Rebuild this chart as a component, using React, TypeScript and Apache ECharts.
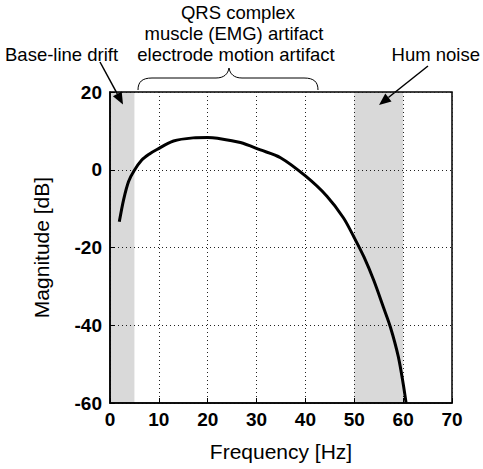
import React, { useEffect, useRef } from "react";
import * as echarts from "echarts";

const freqHz = [1.9, 2.8, 3.8, 4.9, 6.5, 8, 9.6, 13, 17, 20, 22, 26.7, 30.8, 34.9, 40, 44.4, 47.8, 50, 52, 54, 56, 57.4, 59, 60, 60.6];
const magDb = [-13.4, -7.6, -3, -0.3, 2.5, 4.0, 5.2, 7.4, 8.2, 8.3, 8.1, 7.0, 5.1, 3.1, -1.6, -6.8, -12.4, -17.5, -22.5, -28.5, -35.5, -40.5, -48, -55, -60];
const noiseBands = [
  [0, 5],
  [50, 60],
];
const xTicks = { min: 0, max: 70, interval: 10 };
const yTicks = { min: -60, max: 20, interval: 20 };
const annoTexts = {
  qrs: "QRS complex",
  emg: "muscle (EMG) artifact",
  motion: "electrode motion artifact",
  drift: "Base-line drift",
  hum: "Hum noise",
};

let registered = false;
function ensureShapes() {
  if (registered) return;
  registered = true;
  echarts.graphic.registerShape(
    "brace",
    echarts.graphic.extendPath(
      "M0 22 C0 14 4 10 14 10 L78 10 C86 10 90 6 91 0 C92 6 96 10 104 10 L166 10 C176 10 180 14 180 22",
      {}
    )
  );
}

const FONT = "'Liberation Sans', Arial, Helvetica, sans-serif";
const ANNO = 18.5;

export default function App() {
  const ref = useRef<HTMLDivElement>(null);
  useEffect(() => {
    if (!ref.current) return;
    ensureShapes();
    const chart = echarts.init(ref.current, undefined, { renderer: "svg" });
    const textStyle = (size: number) => ({ fontFamily: FONT, fontSize: size, fill: "#000" });
    const grid = { show: true, lineStyle: { type: [1, 3], color: "#222", width: 1 } };
    chart.setOption({
      animation: false,
      backgroundColor: "#fff",
      grid: {
        left: 110,
        right: 31,
        top: 92,
        bottom: 66,
        show: true,
        borderColor: "#000",
        borderWidth: 1.5,
        backgroundColor: "transparent",
      },
      xAxis: {
        type: "value",
        min: xTicks.min,
        max: xTicks.max,
        interval: xTicks.interval,
        name: "Frequency [Hz]",
        nameLocation: "middle",
        nameGap: 38,
        nameTextStyle: { fontFamily: FONT, fontSize: 21, color: "#000" },
        axisLine: { show: true, onZero: false, lineStyle: { color: "#000", width: 1.5 } },
        axisTick: { show: true, inside: true, length: 5, lineStyle: { color: "#000" } },
        axisLabel: { fontFamily: FONT, fontSize: 19, fontWeight: "bold", color: "#000", margin: 7 },
        splitLine: grid,
      },
      yAxis: {
        type: "value",
        min: yTicks.min,
        max: yTicks.max,
        interval: yTicks.interval,
        name: "Magnitude [dB]",
        nameLocation: "middle",
        nameGap: 58,
        nameTextStyle: { fontFamily: FONT, fontSize: 21, color: "#000" },
        axisLine: { show: true, onZero: false, lineStyle: { color: "#000", width: 1.5 } },
        axisTick: { show: true, inside: true, length: 5, lineStyle: { color: "#000" } },
        axisLabel: { fontFamily: FONT, fontSize: 19, fontWeight: "bold", color: "#000", margin: 8 },
        splitLine: grid,
      },
      series: [
        {
          type: "line",
          data: freqHz.map((f, i) => [f, magDb[i]]),
          smooth: 0.3,
          showSymbol: false,
          lineStyle: { color: "#000", width: 3 },
          markArea: {
            silent: true,
            itemStyle: { color: "rgba(0,0,0,0.15)" },
            data: noiseBands.map(([a, b]) => [{ xAxis: a }, { xAxis: b }]),
          },
        },
      ],
      graphic: [
        { type: "text", x: 238, y: 12, style: { ...textStyle(ANNO), text: annoTexts.qrs, textAlign: "center", textVerticalAlign: "middle" } },
        { type: "text", x: 234, y: 33, style: { ...textStyle(ANNO), text: annoTexts.emg, textAlign: "center", textVerticalAlign: "middle" } },
        { type: "text", x: 236, y: 54, style: { ...textStyle(ANNO), text: annoTexts.motion, textAlign: "center", textVerticalAlign: "middle" } },
        { type: "text", x: 5, y: 54, style: { ...textStyle(ANNO), text: annoTexts.drift, textAlign: "left", textVerticalAlign: "middle" } },
        { type: "text", x: 480, y: 54, style: { ...textStyle(ANNO), text: annoTexts.hum, textAlign: "right", textVerticalAlign: "middle" } },
        { type: "brace", x: 138, y: 68, style: { stroke: "#000", lineWidth: 1, fill: null } },
        { type: "line", shape: { x1: 100, y1: 62, x2: 117.3, y2: 93.9 }, style: { stroke: "#000", lineWidth: 1.5 } },
        { type: "polygon", shape: { points: [[123, 104.5], [112.9, 96.3], [121.7, 91.5]] }, style: { fill: "#000" } },
        { type: "line", shape: { x1: 428, y1: 66, x2: 388.4, y2: 97.5 }, style: { stroke: "#000", lineWidth: 1.5 } },
        { type: "polygon", shape: { points: [[379, 105], [385.3, 93.6], [391.5, 101.4]] }, style: { fill: "#000" } },
      ],
    });
    return () => chart.dispose();
  }, []);
  return <div ref={ref} style={{ position: "fixed", left: 0, top: 0, width: 483, height: 469 }} />;
}
